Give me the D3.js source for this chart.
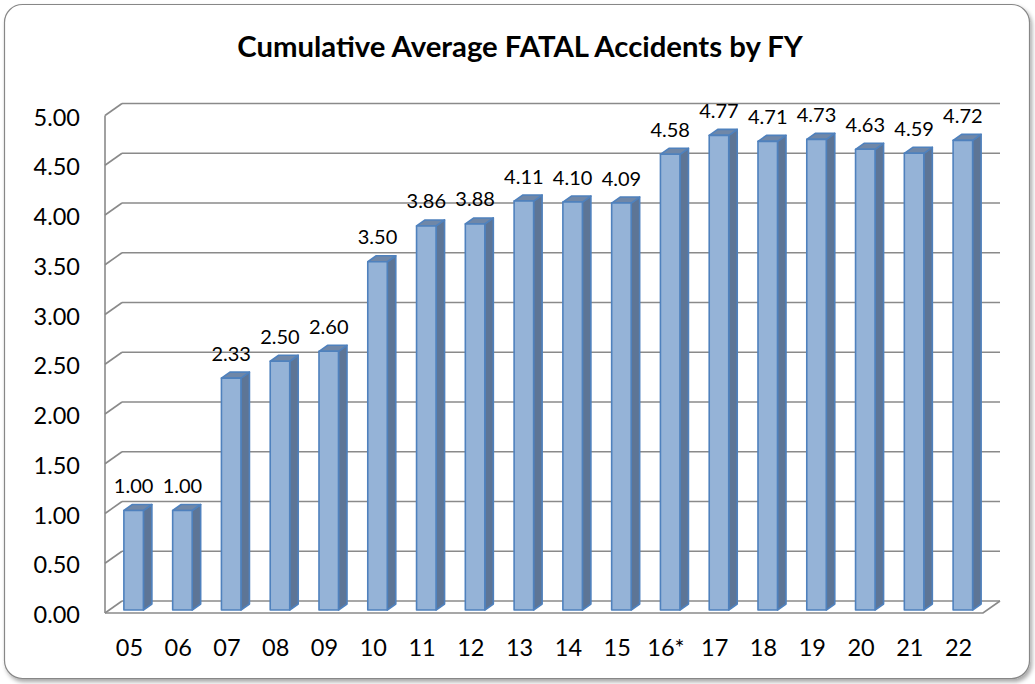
<html>
<script src='https://d3js.org/d3.v7.min.js'></script>
<style>
  body { margin: 0; background: white; }
  text { font-family: Lato, 'Liberation Sans', sans-serif; fill: black; }
</style>
<body>
<svg width=1035 height=684></svg>
<script>

var years = ["05", "06", "07", "08", "09", "10", "11", "12", "13", "14", "15", "16*", "17", "18", "19", "20", "21", "22"];
var values = [1.00, 1.00, 2.33, 2.50, 2.60, 3.50, 3.86, 3.88, 4.11, 4.10, 4.09, 4.58, 4.77, 4.71, 4.73, 4.63, 4.59, 4.72];
var yTicks = [0, 0.5, 1, 1.5, 2, 2.5, 3, 3.5, 4, 4.5, 5];
var title = "Cumulative Average FATAL Accidents by FY";

var svg = d3.select("svg");

// depth of the 3d box (front -> back)
var dx = 17, dy = -12;

var x = d3.scaleBand().domain(years).range([105, 983]).paddingInner(0.6).paddingOuter(0.3);
var y = d3.scaleLinear().domain([0, 5]).range([613, 115.5]);

// chart border with shadow
var defs = svg.append("defs");
var f = defs.append("filter").attr("id", "shadow").attr("x", "-5%").attr("y", "-5%").attr("width", "110%").attr("height", "110%");
f.append("feDropShadow").attr("dx", 2).attr("dy", 3).attr("stdDeviation", 2)
  .attr("flood-color", "#000").attr("flood-opacity", 0.35);

svg.append("rect")
  .attr("x", 4.5).attr("y", 4.5).attr("width", 1025).attr("height", 674)
  .attr("rx", 18).attr("ry", 18)
  .attr("fill", "white").attr("stroke", "#878787").attr("stroke-width", 1.2)
  .attr("filter", "url(#shadow)");

// title
var t = svg.append("text")
  .attr("x", 520).attr("y", 57)
  .attr("text-anchor", "middle")
  .style("font-weight", "bold")
  .style("font-size", "28px")
  .text(title);
var tw = t.node().getComputedTextLength();
t.style("font-size", (28 * 566 / tw) + "px");

var grid = svg.append("g")
  .attr("fill", "none")
  .attr("stroke", "#8a8a8a")
  .attr("stroke-width", 1.6);

// back wall gridlines + left wall slants
yTicks.forEach(function(v) {
  grid.append("line")
    .attr("x1", x.range()[0] + dx).attr("x2", x.range()[1] + dx)
    .attr("y1", y(v) + dy).attr("y2", y(v) + dy);
  grid.append("line")
    .attr("x1", x.range()[0]).attr("x2", x.range()[0] + dx)
    .attr("y1", y(v)).attr("y2", y(v) + dy);
});

// left wall edge
grid.append("line")
  .attr("x1", x.range()[0]).attr("x2", x.range()[0])
  .attr("y1", y(0)).attr("y2", y(5));

// floor front + right edge
grid.append("polyline")
  .attr("points", [
    [x.range()[0], y(0)],
    [x.range()[1], y(0)],
    [x.range()[1] + dx, y(0) + dy]
  ].join(" "));

// y labels
svg.append("g").selectAll("text")
  .data(yTicks)
  .enter()
  .append("text")
    .attr("x", 80)
    .attr("y", function(d) { return y(d) + 10; })
    .attr("text-anchor", "end")
    .style("font-size", "23.5px")
    .text(function(d) { return d3.format(".2f")(d); });

// x labels
svg.append("g").selectAll("text")
  .data(years)
  .enter()
  .append("text")
    .attr("x", function(d) { return x(d) + x.bandwidth() / 2; })
    .attr("y", 656)
    .attr("text-anchor", "middle")
    .style("font-size", "23.5px")
    .text(function(d) { return d; });

// bars, placed in the middle half of the depth
var bw = x.bandwidth();
var ox = dx * 0.25, oy = dy * 0.25;
var bdx = dx * 0.5, bdy = dy * 0.5;

var bars = svg.append("g").selectAll("g")
  .data(years.map(function(c, i) { return { cat: c, v: values[i] }; }))
  .enter()
  .append("g")
  .attr("stroke", "#4f81bd")
  .attr("stroke-width", 1.6)
  .attr("stroke-linejoin", "round");

bars.append("polygon")
  .attr("fill", "#5d7596")
  .attr("points", function(d) {
    var x0 = x(d.cat) + ox + bw, yt = y(d.v) + oy, yb = y(0) + oy;
    return [[x0, yt], [x0 + bdx, yt + bdy], [x0 + bdx, yb + bdy], [x0, yb]].join(" ");
  });

bars.append("polygon")
  .attr("fill", "#6f87a8")
  .attr("points", function(d) {
    var x0 = x(d.cat) + ox, yt = y(d.v) + oy;
    return [[x0, yt], [x0 + bdx, yt + bdy], [x0 + bw + bdx, yt + bdy], [x0 + bw, yt]].join(" ");
  });

bars.append("rect")
  .attr("fill", "#95b3d7")
  .attr("x", function(d) { return x(d.cat) + ox; })
  .attr("y", function(d) { return y(d.v) + oy; })
  .attr("width", bw)
  .attr("height", function(d) { return y(0) - y(d.v); });

// data labels
bars.append("text")
  .attr("stroke", "none")
  .attr("x", function(d) { return x(d.cat) + ox + bw / 2; })
  .attr("y", function(d) { return y(d.v) - 20.5; })
  .attr("text-anchor", "middle")
  .style("font-size", "20px")
  .text(function(d) { return d3.format(".2f")(d.v); });

</script>
</body>
</html>
